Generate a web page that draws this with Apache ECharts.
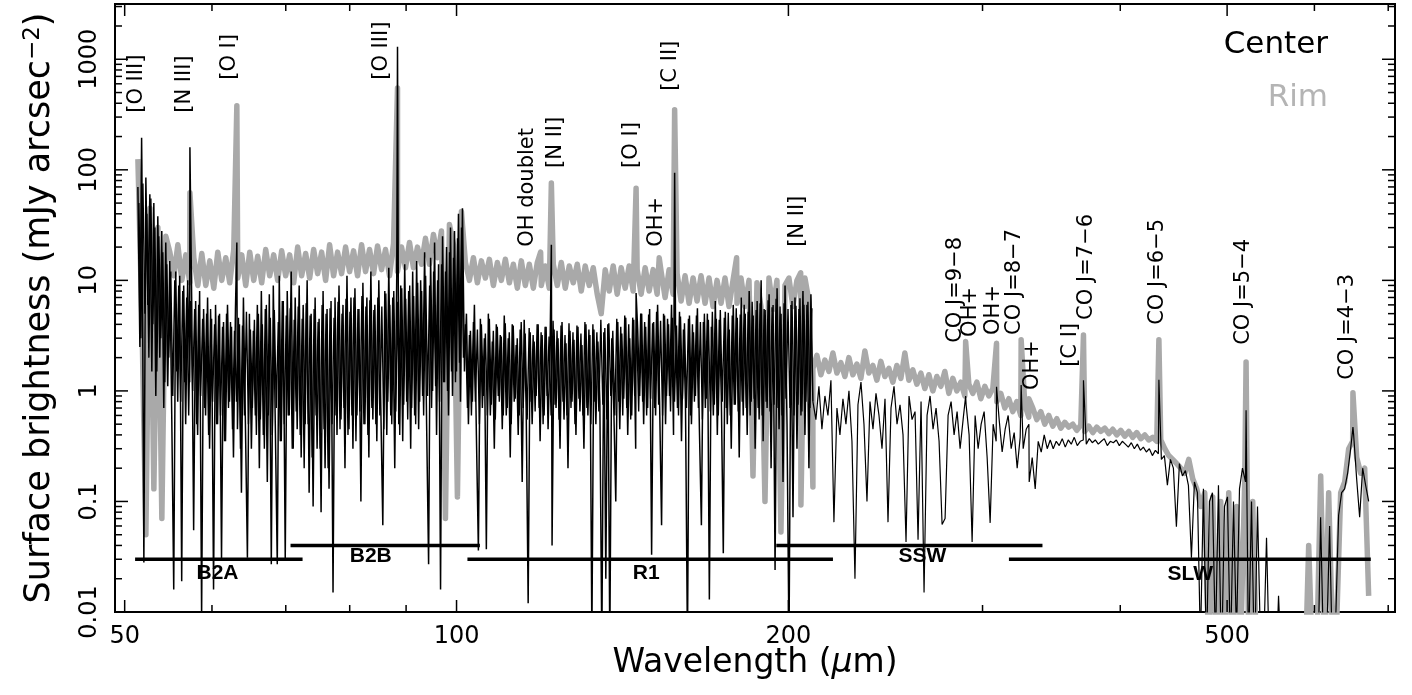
<!DOCTYPE html>
<html><head><meta charset="utf-8">
<script src="https://cdn.jsdelivr.net/npm/echarts@6.0.0/dist/echarts.min.js"></script>
<style>html,body{margin:0;padding:0;background:#fff}#c{width:1412px;height:695px}</style>
</head><body><div id="c"></div>
<script>
// ---- Data ----
// Sample ranges (wavelength, micron) of each spectral segment; flux in mJy arcsec^-2
const centerPacsRange = [51.4, 210.5];
const centerPacsFlux = [
70,2.5,110,0.028,85,6,60,1.5,50,0.9,38,2,28,0.7,22,1.1,15,0.6,0.016,12,
0.8,11,0.019,9,0.5,10,1.2,7,0.055,6.5,0.4,8,0.009,5.5,0.6,7,0.3,4.5,0.016,6,
0.5,5,0.03,4.2,0.35,6,0.8,3.8,0.25,5.5,0.45,4,0.12,7,0.5,0.031,5,0.3,3.5,0.6,
6,0.2,8,0.4,5.5,0.15,7.5,0.027,9,0.5,0.027,11,0.35,6.5,0.03,8,0.6,12,0.3,7,
0.45,9,0.25,6,0.5,10,0.12,5,0.09,7,0.3,4.5,0.08,8,0.2,5.5,0.13,6.5,0.015,7,
0.4,9,0.55,6,0.2,11,0.45,7,0.3,8.5,0.6,5.5,0.1,9.5,0.5,7,0.25,12,0.55,6,
0.35,10,0.7,0.061,8,0.4,13,0.6,7,0.2,11,0.5,9,0.35,14,0.8,8,0.3,12,0.6,
15,0.45,10,0.9,18,0.5,0.027,16,1,22,0.4,14,0.016,25,1.2,20,0.6,30,0.9,28,
1.5,40,0.8,45,1.5,5,0.5,3.5,0.8,6,0.4,0.036,4.5,0.7,3,0.037,5,0.6,2.8,0.3,
4,0.9,3.2,0.45,4.8,0.6,3,0.25,4,0.8,2.6,0.4,3.6,0.15,4.4,0.7,0.012,3.4,0.5,2.8,
0.9,4,0.35,3.2,0.6,3.8,0.45,2.5,0.04,3.6,0.7,3,0.3,4.2,0.55,2.7,0.2,3.5,0.8,2.9,
0.4,3.8,0.65,2.6,0.3,4,0.6,3.2,0.006,3.6,0.5,2.8,0.8,0.005,3.4,0.02,4,0.005,3,0.7,
0.1,4.2,0.45,3.3,0.85,4.6,0.4,3,0.6,4.4,0.3,3.6,0.9,5,0.5,3.8,0.7,5.5,0.033,4.2,
0.6,6,0.8,0.061,5,0.5,4.5,0.9,6,0.4,4,0.7,5.2,0.35,3.6,0.8,0.005,4.8,0.5,3.4,
0.9,5.6,0.45,0.061,4.2,0.7,5,0.013,3.8,0.6,6.5,0.4,4.4,0.9,0.034,5.2,0.5,3.6,0.3,6,
0.75,4.6,0.25,7,0.6,5,0.4,8,0.8,4.8,0.3,6.5,0.55,10,0.35,5.4,0.7,7.5,0.2,6,
0.024,8.5,0.45,5,0.15,9,0.5,0.005,6,0.072,7,0.3,5.5,0.6,8,0.4,6,0.2,7.5,0.8
];
// second (interleaved) PACS centre scan, sampled half a step later
const centerPacsRangeB = [51.51, 210.06];
const centerPacsFluxB = [
50,3,75,5,40,2,55,4,30,1.5,25,3,18,1.2,14,2,12,0.9,10,1.5,
9,0.8,8,1.2,7,0.6,6.5,1,5.5,0.5,6,0.9,4.5,0.7,5,0.4,5.5,0.8,4,0.5,
4.8,0.6,3.8,0.35,5,0.7,4.2,0.45,3.5,0.8,4.6,0.3,3.9,0.6,5.2,0.5,3.6,0.7,4.4,0.4,
5,0.55,4,0.3,6,0.6,4.6,0.4,5.4,0.7,4.2,0.35,6.5,0.5,4.8,0.6,5.6,0.3,4.4,0.65,
5.8,0.4,4.5,0.2,6.2,0.5,4.8,0.25,5.5,0.6,4.2,0.3,6,0.45,5,0.2,5.6,0.5,4.6,0.6,
6.4,0.45,5,0.7,6.8,0.4,5.2,0.6,7,0.35,5.5,0.65,7.2,0.5,5.8,0.4,6.6,0.7,5.4,0.5,
7,0.6,5.8,0.45,7.6,0.8,6,0.5,8,0.65,6.4,0.4,8.5,0.75,6.8,0.55,9,0.7,7.2,0.5,
9.5,0.8,8,0.6,11,0.9,9,0.7,12,1.1,10,0.8,14,1.2,12,1,18,1.5,16,1.2,
24,1.8,30,2,4,0.7,3.2,0.6,4.2,0.8,3.6,0.5,4,0.9,3.3,0.6,4.5,0.75,3.5,0.55,
3.8,0.8,3.1,0.6,4.1,0.7,3.4,0.5,3.9,0.85,3,0.6,4.2,0.7,3.3,0.55,3.7,0.8,3.2,0.65,
4,0.7,3.4,0.5,3.8,0.9,3.1,0.6,4.3,0.75,3.5,0.55,3.9,0.8,3.2,0.6,4.1,0.7,3.4,0.5,
3.9,0.85,3.3,0.6,4.2,0.7,3.6,0.5,4,0.8,3.4,0.65,4.4,0.75,3.7,0.55,4.1,0.9,3.5,0.6,
4.5,0.8,3.8,0.6,4.8,0.7,4,0.55,4.6,0.9,3.9,0.65,5,0.8,4.2,0.6,4.9,0.85,4.1,0.7,
5.2,0.75,4.3,0.6,4.8,0.9,4,0.65,4.6,0.8,3.9,0.6,4.7,0.85,4.1,0.7,4.5,0.6,4,0.8,
4.8,0.7,4.2,0.55,5,0.85,4.4,0.65,5.2,0.75,4.5,0.6,5.4,0.8,4.6,0.7,5.1,0.6,4.8,0.75,
5.6,0.65,4.9,0.8,6,0.7,5.2,0.6,6.4,0.85,5.4,0.7,6.2,0.6,5.5,0.8,6.6,0.65,5.7,0.75,
6.8,0.7,5.8,0.6,6.2,0.85,5.5,0.7,6.5,0.6,5.9,0.75,6.9,0.65,6,0.8,6.4,0.7,5.6
];
const centerSpireRange = [210.5, 672];
const centerSpireFlux = [
0.8,0.55,1.1,0.45,0.9,0.6,1.25,0.065,0.7,0.4,
0.85,0.5,1.0,0.35,0.02,0.75,1.2,0.5,0.10,0.8,
0.45,0.95,0.6,0.3,0.85,0.065,0.7,1.1,0.5,0.75,
0.4,0.043,0.9,0.55,0.65,0.045,0.8,0.015,0.6,0.9,
0.45,0.7,0.35,0.062,0.07,0.6,0.8,0.4,0.65,0.3,
0.55,0.75,0.4,0.043,0.6,0.3,0.5,0.65,0.25,0.064,
0.5,0.35,0.55,0.28,0.45,0.6,0.3,0.42,0.2,0.38,
0.3,0.45,0.15,0.25,0.13,0.35,0.28,0.4,0.3,0.36,
0.3,0.35,0.32,0.37,0.31,0.36,0.33,0.38,0.32,0.35,
0.36,0.33,0.37,0.34,0.36,0.33,0.35,0.37,0.32,0.35,
0.34,0.36,0.32,0.35,0.33,0.31,0.34,0.3,0.33,0.29,
0.31,0.28,0.3,0.26,0.29,0.27,0.24,0.26,0.14,0.24,
0.2,0.059,0.22,0.17,0.19,0.14,0.031,0.15,0.12,0.005,
0.13,0.004,0.1,0.12,0.005,0.14,0.003,0.09,0.11,0.004,
0.1,0.006,0.13,0.2,0.15,0.004,0.1,0.003,0.09,0.005,
0.004,0.047,0.003,0.004,0.002,0.014,0.003,0.002,0.003,0.002,
0.002,0.003,0.002,0.003,0.002,0.004,0.003,0.005,0.002,0.072,
0.004,0.005,0.06,0.003,0.008,0.075,0.12,0.13,0.18,0.3,
0.4,0.16,0.072,0.2,0.14,0.1
];
const rimPacsRange = [51.4, 210.5];
const rimPacsFlux = [
125,4.5,0.05,45,0.13,30,0.07,25,18,11,21,10,17,9.5,16,9,17.5,9,15,8.5,
18,10,16,9.5,19,10.5,17,9,18,10,16.5,9.5,19,11,17,10,18.5,11,17,9.5,
20,11,17.5,10.5,19,11.5,18,10,21,11,18,11.5,20,12,18.5,11,21,12,19,11.5,
20.5,12.5,19,11,21.5,12,20,13,22,13,20,14,24,14,26,16,28,0.07,32,21,
0.11,42,14.5,10,16,9.5,15,10.5,15.5,9,14.5,10,15.5,9.5,14,8.5,15,9,14,8.5,
14.5,9,13.5,8.5,14,9,14.5,8.5,13.5,9.5,14,8,13.5,9,13,7.5,5,12.5,8,13.5,
7.5,13,8.5,13.5,8,12.5,7.5,13,8,12.5,7.5,12,7,12.5,7.5,11.5,6.5,11,6.2,10.5,
6.5,11,6.2,10.5,5.8,10,6.2,10.5,5.8,10,6.2,10.5,5.8,10,0.17,9.5,5.8,0.1,10.5,5.5,
10,0.053,9,10.5,5.8,10,0.093,10.5,6.5,0.135
];
const rimSpireRange = [210.5, 672];
const rimSpireFlux = [
1.6,2.1,1.4,1.9,1.5,2.2,1.45,1.8,1.35,2.0,
1.4,1.75,1.3,2.3,1.45,1.7,1.25,1.85,1.35,1.6,
1.2,1.7,1.3,2.2,1.25,1.55,1.15,1.45,1.05,1.4,
1.0,1.35,1.1,1.5,0.95,1.3,1.0,1.2,0.9,1.15,
0.95,1.2,0.85,1.1,0.9,1.05,0.8,0.95,0.7,0.85,
0.65,0.8,0.6,0.75,0.58,0.7,0.55,0.65,0.5,0.6,
0.48,0.56,0.46,0.52,0.47,0.5,0.44,0.49,0.43,0.48,
0.42,0.47,0.43,0.46,0.41,0.45,0.4,0.44,0.39,0.43,
0.38,0.42,0.37,0.4,0.36,0.38,0.35,0.36,0.3,0.26,
0.24,0.22,0.2,0.18,0.24,0.16,0.13,0.09,0.12,0.004,
0.11,0.003,0.1,0.004,0.12,0.003,0.09,0.005,0.15,0.004,
0.1,0.003,0.003,0.002,0.003,0.002,0.003,0.002,0.003,0.002,
0.003,0.002,0.003,0.002,0.04,0.003,0.004,0.17,0.004,0.12,
0.005,0.008,0.12,0.15,0.3,0.35,0.25,0.18,0.2,0.014
];
// Emission line peaks
const lineWave       = [51.8, 57.3, 63.2, 88.4, 119.2, 121.9, 145.5, 152.7, 157.7, 179.5, 205.2, 289.6, 308.9, 325.2, 330.5, 370.4, 433.6, 520.2, 650.3];
const lineCenterPeak = [195,  160,  22,   1300, null,  21,    7.7,   null,  94,    null,  null,  0.9,   1.09,  1.13,  0.5,   1.25,  1.26,  0.67,  0.47];
const lineRimPeak    = [null, 62,   380,  550,  18,    76,    68,    16,    350,   16,    11.7,  2.8,   2.7,   2.9,   0.85,  3.2,   2.9,   1.83,  0.96];
// Line annotations
const labelText  = ['[O III]','[N III]','[O I]','[O III]','OH doublet','[N II]','[O I]','OH+','[C II]','[N II]','CO J=9\u22128','OH+','OH+','CO J=8\u22127','OH+','[C I]','CO J=7\u22126','CO J=6\u22125','CO J=5\u22124','CO J=4\u22123'];
const labelWave  = [51.26, 56.7, 62.2, 85.5, 116.1, 122.9, 144.0, 152.0, 156.2, 203.9, 283.3, 292.5, 306.9, 321.0, 333.0, 360.2, 372.6, 432.8, 517.7, 643.6];
const labelLevel = [328, 328, 652, 652, 20.1, 104, 104, 20.1, 518, 20.1, 2.72, 3.08, 3.21, 3.21, 1.02, 1.65, 4.39, 3.96, 2.61, 1.26];
// Instrument bands
const bandName       = ['B2A', 'B2B', 'R1', 'SSW', 'SLW'];
const bandStart      = [51.1, 70.7, 102.3, 195, 317];
const bandEnd        = [72.5, 105, 219.5, 340, 675];
const bandLevel      = [0.03, 0.04, 0.03, 0.04, 0.03];
const bandLabelWave  = [60.7, 83.6, 148.6, 264.6, 463];
const bandLabelLevel = [0.0223, 0.0318, 0.0225, 0.0318, 0.0218];
// Ticks
const xMajorTicks = [50, 100, 200, 500];
const xTickLabels = ['50', '100', '200', '500'];
const xMinorTicks = [60, 70, 80, 90, 300, 400, 600, 700];
const yMajorTicks = [0.01, 0.1, 1, 10, 100, 1000];
const yTickLabels = ['0.01', '0.1', '1', '10', '100', '1000'];
const yMinorTicks = [0.02,0.03,0.04,0.05,0.06,0.07,0.08,0.09,0.2,0.3,0.4,0.5,0.6,0.7,0.8,0.9,2,3,4,5,6,7,8,9,20,30,40,50,60,70,80,90,200,300,400,500,600,700,800,900,2000,3000];

// ---- Build series ----
function buildSpectrum(range, flux, peaks) {
  const pts = [];
  const n = flux.length;
  for (let i = 0; i < n; i++) {
    const w = range[0] * Math.pow(range[1] / range[0], i / (n - 1));
    pts.push([w, flux[i]]);
  }
  if (peaks) lineWave.forEach((w, k) => {
    if (peaks[k] != null && w > range[0] && w < range[1]) pts.push([w, peaks[k]]);
  });
  pts.sort((a, b) => a[0] - b[0]);
  return pts;
}
const centerPacsData = buildSpectrum(centerPacsRange, centerPacsFlux, lineCenterPeak);
const centerPacsDataB = buildSpectrum(centerPacsRangeB, centerPacsFluxB, null);
const centerSpireData = buildSpectrum(centerSpireRange, centerSpireFlux, lineCenterPeak);
const rimData = buildSpectrum(rimPacsRange, rimPacsFlux, lineRimPeak)
  .concat(buildSpectrum(rimSpireRange, rimSpireFlux, lineRimPeak));

const FONT = 'DejaVu Sans';

function xTickSeries(values, len, labels) {
  return {
    type: 'custom', silent: true, z: 20, clip: false,
    data: values.map(v => [v, 1]),
    renderItem(params, api) {
      const cs = params.coordSys;
      const x = api.coord([api.value(0), api.value(1)])[0];
      const b = cs.y + cs.height, t = cs.y;
      const ch = [
        { type: 'line', shape: { x1: x, y1: b, x2: x, y2: b - len }, style: { stroke: '#000', lineWidth: 1.5 } },
        { type: 'line', shape: { x1: x, y1: t, x2: x, y2: t + len }, style: { stroke: '#000', lineWidth: 1.5 } }
      ];
      if (labels) ch.push({ type: 'text', x: x, y: b + 25, style: { text: labels[params.dataIndex], fontSize: 24, fontFamily: FONT, fill: '#000', align: 'center', verticalAlign: 'middle' } });
      return { type: 'group', children: ch };
    }
  };
}
function yTickSeries(values, len, labels) {
  return {
    type: 'custom', silent: true, z: 20, clip: false,
    data: values.map(v => [100, v]),
    renderItem(params, api) {
      const cs = params.coordSys;
      const y = api.coord([api.value(0), api.value(1)])[1];
      const l = cs.x, r = cs.x + cs.width;
      const ch = [
        { type: 'line', shape: { x1: l, y1: y, x2: l + len, y2: y }, style: { stroke: '#000', lineWidth: 1.5 } },
        { type: 'line', shape: { x1: r, y1: y, x2: r - len, y2: y }, style: { stroke: '#000', lineWidth: 1.5 } }
      ];
      if (labels) ch.push({ type: 'text', x: l - 25, y: y, rotation: Math.PI / 2, style: { text: labels[params.dataIndex], fontSize: 24, fontFamily: FONT, fill: '#000', align: 'center', verticalAlign: 'middle' } });
      return { type: 'group', children: ch };
    }
  };
}

const chart = echarts.init(document.getElementById('c'), null, { renderer: 'canvas' });
chart.setOption({
  animation: false,
  backgroundColor: '#fff',
  grid: { left: 115, right: 17, top: 4, bottom: 83, show: true, borderColor: '#000', borderWidth: 2, backgroundColor: 'transparent', containLabel: false, outerBoundsMode: 'none' },
  xAxis: {
    type: 'log', logBase: 10, min: 49, max: 710,
    axisLine: { show: false }, axisTick: { show: false }, axisLabel: { show: false }, splitLine: { show: false }, minorTick: { show: false },
    name: '{a|Wavelength (}{b|\u03bc}{a|m)}', nameLocation: 'middle', nameGap: 35,
    nameTextStyle: { rich: { a: { fontSize: 33, fontFamily: FONT, color: '#000' }, b: { fontSize: 33, fontFamily: FONT, fontStyle: 'italic', color: '#000' } } }
  },
  yAxis: {
    type: 'log', logBase: 10, min: 0.01, max: 3162,
    axisLine: { show: false }, axisTick: { show: false }, axisLabel: { show: false }, splitLine: { show: false }, minorTick: { show: false },
    name: '{a|Surface brightness (mJy arcsec}{s|\u22122}{a|)}', nameLocation: 'middle', nameGap: 58, nameRotate: 90,
    nameTextStyle: { rich: { a: { fontSize: 35, fontFamily: FONT, color: '#000' }, s: { fontSize: 23, fontFamily: FONT, color: '#000', verticalAlign: 'top' } } }
  },
  graphic: [
    { type: 'text', right: 84, top: 29, style: { text: 'Center', fontSize: 31, fontFamily: FONT, fill: '#000' } },
    { type: 'text', right: 84, top: 82, style: { text: 'Rim', fontSize: 31, fontFamily: FONT, fill: '#b4b4b4' } }
  ],
  series: [
    { name: 'Rim', type: 'line', data: rimData, showSymbol: false, symbol: 'none', clip: true, z: 2,
      lineStyle: { color: '#a9a9a9', width: 5.5, join: 'round', cap: 'butt' } },
    { name: 'Center', type: 'line', data: centerPacsDataB, showSymbol: false, symbol: 'none', clip: true, z: 3,
      lineStyle: { color: '#000', width: 1.4, join: 'bevel' } },
    { name: 'Center', type: 'line', data: centerPacsData, showSymbol: false, symbol: 'none', clip: true, z: 3,
      lineStyle: { color: '#000', width: 1.5, join: 'bevel' } },
    { name: 'Center', type: 'line', data: centerSpireData, showSymbol: false, symbol: 'none', clip: true, z: 3,
      lineStyle: { color: '#000', width: 1.2, join: 'bevel' } },
    {
      name: 'bands', type: 'custom', silent: true, z: 12, clip: false,
      data: bandName.map((n, i) => [bandLabelWave[i], bandLabelLevel[i]]),
      renderItem(params, api) {
        const i = params.dataIndex;
        const p1 = api.coord([bandStart[i], bandLevel[i]]);
        const p2 = api.coord([bandEnd[i], bandLevel[i]]);
        const pl = api.coord([api.value(0), api.value(1)]);
        return { type: 'group', children: [
          { type: 'line', shape: { x1: p1[0], y1: p1[1], x2: p2[0], y2: p2[1] }, style: { stroke: '#000', lineWidth: 3.5 } },
          { type: 'text', x: pl[0], y: pl[1], style: { text: bandName[i], fontSize: 21, fontWeight: 'bold', fontFamily: 'Liberation Sans', fill: '#000', align: 'center', verticalAlign: 'middle' } }
        ] };
      }
    },
    {
      name: 'labels', type: 'custom', silent: true, z: 12, clip: false,
      data: labelWave.map((w, i) => [w, labelLevel[i]]),
      renderItem(params, api) {
        const p = api.coord([api.value(0), api.value(1)]);
        return { type: 'text', x: p[0], y: p[1], rotation: Math.PI / 2,
          style: { text: labelText[params.dataIndex], fontSize: 21, fontFamily: FONT, fill: '#000', align: 'left', verticalAlign: 'middle' } };
      }
    },
    xTickSeries(xMajorTicks, 12, xTickLabels),
    xTickSeries(xMinorTicks, 7, null),
    yTickSeries(yMajorTicks, 13, yTickLabels),
    yTickSeries(yMinorTicks, 7, null)
  ]
});
</script></body></html>
